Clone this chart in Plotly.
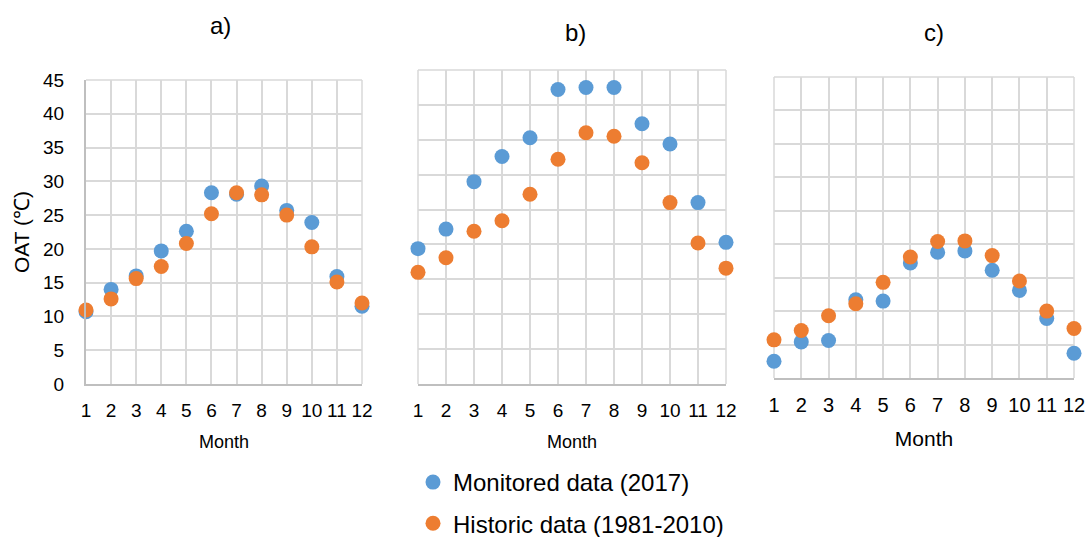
import plotly.graph_objects as go

months = list(range(1, 13))

# Panel a)
a_monitored = [10.7, 14.0, 16.0, 19.7, 22.6, 28.3, 28.1, 29.3, 25.7, 23.9, 15.9, 11.5]
a_historic = [10.95, 12.6, 15.6, 17.4, 20.8, 25.2, 28.3, 28.0, 25.0, 20.3, 15.1, 12.0]

# Panel b)
b_monitored = [19.4, 22.2, 29.0, 32.6, 35.3, 42.2, 42.5, 42.5, 37.3, 34.4, 26.0, 20.3]
b_historic = [16.0, 18.1, 21.9, 23.4, 27.2, 32.2, 36.0, 35.5, 31.7, 26.0, 20.2, 16.6]

# Panel c)
c_monitored = [2.5, 5.4, 5.6, 11.7, 11.5, 17.2, 18.8, 19.0, 16.1, 13.1, 8.9, 3.7]
c_historic = [5.7, 7.1, 9.3, 11.1, 14.3, 18.1, 20.4, 20.5, 18.3, 14.5, 10.0, 7.4]

y_ticks = list(range(0, 50, 5))

BLUE = "#5B9BD5"
ORANGE = "#ED7D31"
GRID = "#d9d9d9"
AXIS = "#bfbfbf"
FONT = "Liberation Sans, Arial, sans-serif"

W, H = 1091, 537

fig = go.Figure()

panels = [
    ("", a_monitored, a_historic),
    ("2", b_monitored, b_historic),
    ("3", c_monitored, c_historic),
]

for i, (suffix, mon, his) in enumerate(panels):
    fig.add_trace(go.Scatter(
        x=months, y=mon, mode="markers", name="Monitored data (2017)",
        marker=dict(color=BLUE, size=15), cliponaxis=False,
        xaxis="x" + suffix, yaxis="y" + suffix,
        showlegend=(i == 0), legendgroup="mon"))
    fig.add_trace(go.Scatter(
        x=months, y=his, mode="markers", name="Historic data (1981-2010)",
        marker=dict(color=ORANGE, size=15), cliponaxis=False,
        xaxis="x" + suffix, yaxis="y" + suffix,
        showlegend=(i == 0), legendgroup="his"))


def px_x(a, b):
    return [a / W, b / W]


def px_y(top, bottom):
    return [1 - bottom / H, 1 - top / H]


x_domains = [px_x(86, 362), px_x(418, 726), px_x(774, 1074)]
y_domains = [px_y(80, 384), px_y(70, 384), px_y(77, 378)]

layout = dict(
    width=W, height=H,
    margin=dict(l=0, r=0, t=0, b=0, autoexpand=False),
    paper_bgcolor="white", plot_bgcolor="white",
    font=dict(family=FONT, color="#000000"),
    showlegend=True,
    legend=dict(x=413 / W, y=1 - 460 / H, xanchor="left", yanchor="top",
                font=dict(size=24, family=FONT, color="#000000"),
                tracegroupgap=7, itemsizing="trace"),
)

month_sizes = [18, 18, 21]
tick_sizes = [19, 19, 20]
for i in range(3):
    key = "" if i == 0 else str(i + 1)
    layout["xaxis" + key] = dict(
        domain=x_domains[i], anchor="y" + key, range=[1, 12],
        tickmode="array", tickvals=months, ticktext=[str(m) for m in months],
        showgrid=True, gridcolor=GRID, gridwidth=1.5,
        showline=True, linecolor=AXIS, linewidth=2,
        ticks="", tickfont=dict(size=tick_sizes[i]), ticklabelstandoff=8,
        title=dict(text="Month", font=dict(size=month_sizes[i]), standoff=16),
        zeroline=False, fixedrange=True, automargin=False,
    )
    layout["yaxis" + key] = dict(
        domain=y_domains[i], anchor="x" + key, range=[0, 45],
        tickmode="array", tickvals=y_ticks,
        showticklabels=(i == 0),
        showgrid=True, gridcolor=GRID, gridwidth=1.5,
        showline=(i == 0), linecolor=AXIS, linewidth=2,
        ticks="", tickfont=dict(size=19), ticklabelstandoff=16,
        zeroline=False, fixedrange=True, automargin=False,
    )

layout["yaxis"]["title"] = dict(text="OAT (℃)", font=dict(size=21), standoff=8)

titles = [("a)", 220, 26), ("b)", 575, 33), ("c)", 934, 33)]
layout["annotations"] = [
    dict(text=t, x=x / W, y=1 - y / H, xref="paper", yref="paper",
         showarrow=False, font=dict(size=24, family=FONT),
         xanchor="center", yanchor="middle")
    for t, x, y in titles
]

# light frame on the top and right edges of every panel
shapes = []
for i in range(3):
    xd, yd = x_domains[i], y_domains[i]
    shapes.append(dict(type="line", xref="paper", yref="paper",
                       x0=xd[0], x1=xd[1], y0=yd[1], y1=yd[1],
                       line=dict(color=GRID, width=1.5), layer="below"))
    shapes.append(dict(type="line", xref="paper", yref="paper",
                       x0=xd[1], x1=xd[1], y0=yd[0], y1=yd[1],
                       line=dict(color=GRID, width=1.5), layer="below"))
    if i > 0:
        shapes.append(dict(type="line", xref="paper", yref="paper",
                           x0=xd[0], x1=xd[0], y0=yd[0], y1=yd[1],
                           line=dict(color=GRID, width=1.5), layer="below"))
layout["shapes"] = shapes

fig.update_layout(**layout)
fig.write_html("out.html")
